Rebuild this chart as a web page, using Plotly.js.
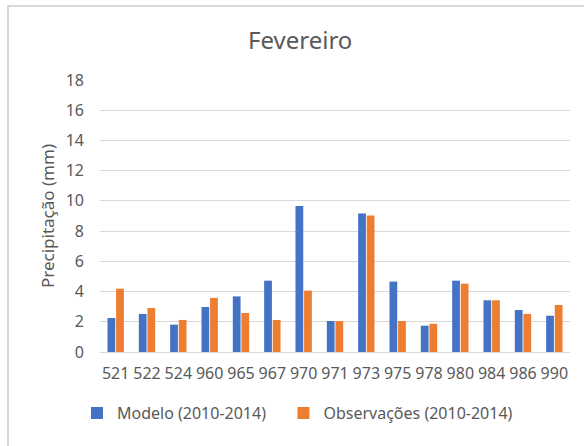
<!DOCTYPE html>
<html>
<head>
<meta charset="utf-8">
<script src="https://cdn.plot.ly/plotly-3.0.1.min.js"></script>
<style>
html,body{margin:0;padding:0;background:#fff;overflow:hidden;}
#frame{position:absolute;left:7px;top:5px;width:600px;height:460px;border:2px solid #d9d9d9;box-sizing:border-box;}
#chart{position:absolute;left:0;top:0;width:584px;height:446px;}
</style>
</head>
<body>
<div id="frame"></div>
<div id="chart"></div>
<script>
const categories = ["521","522","524","960","965","967","970","971","973","975","978","980","984","986","990"];
const modelo = [2.25,2.52,1.81,2.98,3.68,4.72,9.67,2.05,9.16,4.66,1.74,4.72,3.42,2.78,2.40];
const observacoes = [4.19,2.91,2.12,3.58,2.58,2.12,4.06,2.05,9.03,2.05,1.87,4.52,3.42,2.52,3.11];
const yTicks = [0,2,4,6,8,10,12,14,16,18];
const seriesNames = ["Modelo (2010-2014)", "Observações (2010-2014)"];

const font = "Noto Sans, Open Sans, sans-serif";
const grey = "#595959";

const traces = [
  {type:"bar", name:seriesNames[0] + "\u00a0\u00a0\u00a0", x:categories, y:modelo, marker:{color:"#4472C4"}},
  {type:"bar", name:seriesNames[1], x:categories, y:observacoes, marker:{color:"#ED7D31"}}
];

const layout = {
  width:584, height:446,
  margin:{l:100, r:14, t:80, b:94},
  paper_bgcolor:"rgba(0,0,0,0)", plot_bgcolor:"rgba(0,0,0,0)",
  title:{text:"Fevereiro", x:0.514, xanchor:"center", y:0.91, yanchor:"middle", font:{family:font, size:24, color:grey}},
  barmode:"group", bargap:0.45, bargroupgap:0.1,
  xaxis:{type:"category", tickfont:{family:font, size:16, color:grey}, showgrid:false, showline:false, ticks:"", ticklen:0, ticklabelstandoff:10, automargin:false},
  yaxis:{range:[0,18], tickvals:yTicks, ticktext:yTicks.map(String), tickfont:{family:font, size:16, color:grey},
         showgrid:true, gridcolor:"#d9d9d9", gridwidth:1, zeroline:true, zerolinecolor:"#d9d9d9", zerolinewidth:1,
         showline:false, ticks:"", ticklabelstandoff:15, automargin:false,
         title:{text:"Precipitação (mm)", font:{family:font, size:17, color:grey}, standoff:6}},
  showlegend:true,
  legend:{orientation:"h", x:-0.049, xanchor:"left", y:-0.225, yanchor:"middle", font:{family:font, size:16, color:grey}, itemwidth:30, tracegroupgap:0, traceorder:"normal"}
};

Plotly.newPlot("chart", traces, layout, {displayModeBar:false, staticPlot:true});
</script>
</body>
</html>
